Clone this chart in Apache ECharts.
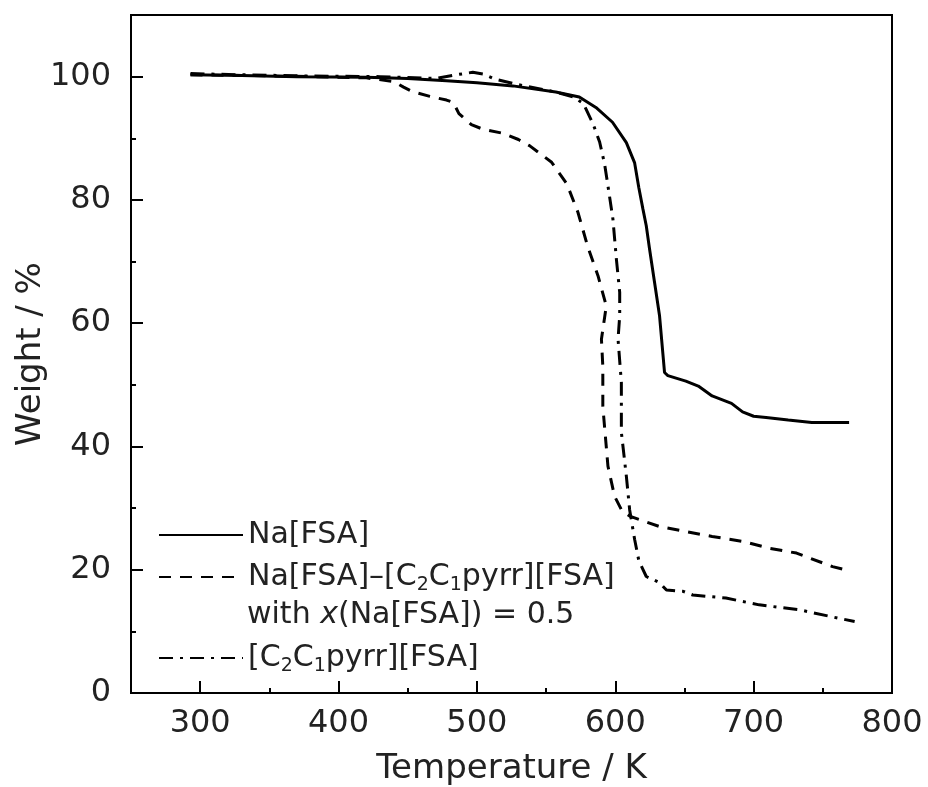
<!DOCTYPE html>
<html>
<head>
<meta charset="utf-8">
<script src="https://cdn.jsdelivr.net/npm/echarts@6/dist/echarts.min.js"></script>
<style>html,body{margin:0;padding:0;background:#fff}#c{width:928px;height:787px}</style>
</head>
<body>
<div id="c"></div>
<script>
// Data (Temperature K, Weight %)
var naFSA = [[293,100.3],[330,100.2],[370,100.0],[420,99.9],[450,99.7],[478,99.35],[500,99.0],[526,98.5],[557,97.5],[574,96.7],[586,95.0],[598,92.6],[608,89.3],[614,86],[617,82],[620,78.5],[622.4,75.8],[624.8,72],[628.4,66.6],[632,61.2],[635.6,52],[638,51.5],[651,50.6],[660,49.8],[670,48.2],[684,47],[692,45.6],[700,44.9],[709,44.7],[725,44.3],[742,43.9],[769,43.9]];
var mixture = [[293,100.3],[330,100.2],[380,100.0],[420,99.8],[440,99.2],[447,98.3],[453,97.6],[466,96.8],[478,96.2],[483,95.8],[487,94.0],[496,92.2],[504,91.5],[519,90.8],[530,89.8],[538,88.8],[554,86.1],[565,82.6],[573,78],[580,72.5],[587.5,67.7],[593.5,62.8],[590,57.4],[591,53],[591,46.5],[594.7,36.8],[599.5,31.9],[605,29.5],[610.4,28.7],[632,27],[651,26.2],[670,25.4],[692,24.6],[711,23.5],[731,22.7],[757,20.5],[766,20]];
var ionicLiquid = [[293,100.5],[330,100.3],[380,100.1],[430,100.0],[470,99.7],[485,100.3],[497,100.7],[505,100.4],[513,99.6],[530,98.7],[557,97.5],[570,96.7],[577,95.6],[584,92.3],[588.7,89.4],[592.3,85.8],[594.7,82.3],[598.3,76.9],[600.8,70.4],[603.2,65],[603.2,61.2],[602,57.4],[604.4,50.4],[604.4,42.3],[608,35.2],[610.4,29.7],[614,24.9],[617,21.5],[622.4,18.9],[632,17.9],[637,16.7],[649,16.5],[656,15.9],[680,15.4],[704,14.3],[733,13.5],[762,12.1],[773,11.6]];
var xMajor = [300,400,500,600,700,800];
var xMinor = [350,450,550,650,750];
var yMajor = [0,20,40,60,80,100];
var yMinor = [10,30,50,70,90];
var names = ['Na[FSA]','Na[FSA]–[C2C1pyrr][FSA]','[C2C1pyrr][FSA]'];

var FONT = 'DejaVu Sans';
var TC = '#222';
var chart = echarts.init(document.getElementById('c'));
function fmtName(n){
  return n.replace(/C2C1/g,'C{sub|2}C{sub|1}');
}
var legendText = {fontFamily:FONT,fontSize:30,color:TC,lineHeight:36,
  rich:{sub:{fontFamily:FONT,fontSize:19,lineHeight:20,verticalAlign:'bottom',color:TC}}};
function mkLegend(name, top){
  return {data:[name],left:158,top:top,orient:'vertical',itemWidth:84,itemHeight:14,
    selectedMode:false,formatter:fmtName,textStyle:legendText,padding:0,
    itemStyle:{color:'rgba(0,0,0,0)',borderWidth:0,opacity:0}};
}
var axisCommon = {type:'value',splitLine:{show:false}};
chart.setOption({
  backgroundColor:'#fff',
  animation:false,
  grid:{left:131,right:36,top:15,bottom:94,show:true,borderColor:'#000',borderWidth:2,
    backgroundColor:'transparent',containLabel:false,outerBoundsMode:'none'},
  xAxis:[
    Object.assign({},axisCommon,{min:250,max:800,position:'bottom',
      axisLine:{show:true,lineStyle:{color:'#000',width:2}},
      axisTick:{show:true,inside:true,length:12,lineStyle:{color:'#000',width:2},customValues:xMajor},
      axisLabel:{customValues:xMajor,fontFamily:FONT,fontSize:32,color:TC,margin:15},
      name:'Temperature / K',nameLocation:'middle',nameGap:59,nameMoveOverlap:false,
      nameTextStyle:{fontFamily:FONT,fontSize:34,color:TC}}),
    Object.assign({},axisCommon,{min:250,max:800,position:'bottom',
      axisLine:{show:false},
      axisTick:{show:true,inside:true,length:5,lineStyle:{color:'#000',width:2},customValues:xMinor},
      axisLabel:{show:false}})
  ],
  yAxis:[
    Object.assign({},axisCommon,{min:0,max:110,position:'left',
      axisLine:{show:true,lineStyle:{color:'#000',width:2}},
      axisTick:{show:true,inside:true,length:12,lineStyle:{color:'#000',width:2},customValues:yMajor},
      axisLabel:{customValues:yMajor,fontFamily:FONT,fontSize:32,color:TC,margin:20},
      name:'Weight / %',nameLocation:'middle',nameGap:83,nameMoveOverlap:false,
      nameTextStyle:{fontFamily:FONT,fontSize:34,color:TC}}),
    Object.assign({},axisCommon,{min:0,max:110,position:'left',
      axisLine:{show:false},
      axisTick:{show:true,inside:true,length:5,lineStyle:{color:'#000',width:2},customValues:yMinor},
      axisLabel:{show:false}})
  ],
  legend:[mkLegend(names[0],517),mkLegend(names[1],559),mkLegend(names[2],640)],
  graphic:[{type:'text',left:247,top:600,
    style:{text:'with {i|x}(Na[FSA]) = 0.5',fontFamily:FONT,fontSize:30,fill:TC,
      rich:{i:{fontFamily:FONT,fontSize:30,fontStyle:'italic',fill:TC}}}}],
  series:[
    {name:names[0],type:'line',data:naFSA,symbol:'none',xAxisIndex:0,yAxisIndex:0,
      lineStyle:{color:'#000',width:3,type:'solid'},itemStyle:{color:'#000'}},
    {name:names[1],type:'line',data:mixture,symbol:'none',xAxisIndex:0,yAxisIndex:0,
      lineStyle:{color:'#000',width:3,type:[12,9]},itemStyle:{color:'#000'}},
    {name:names[2],type:'line',data:ionicLiquid,symbol:'none',xAxisIndex:0,yAxisIndex:0,
      lineStyle:{color:'#000',width:3,type:[14,7,3,7]},itemStyle:{color:'#000'}}
  ]
});
</script>
</body>
</html>
